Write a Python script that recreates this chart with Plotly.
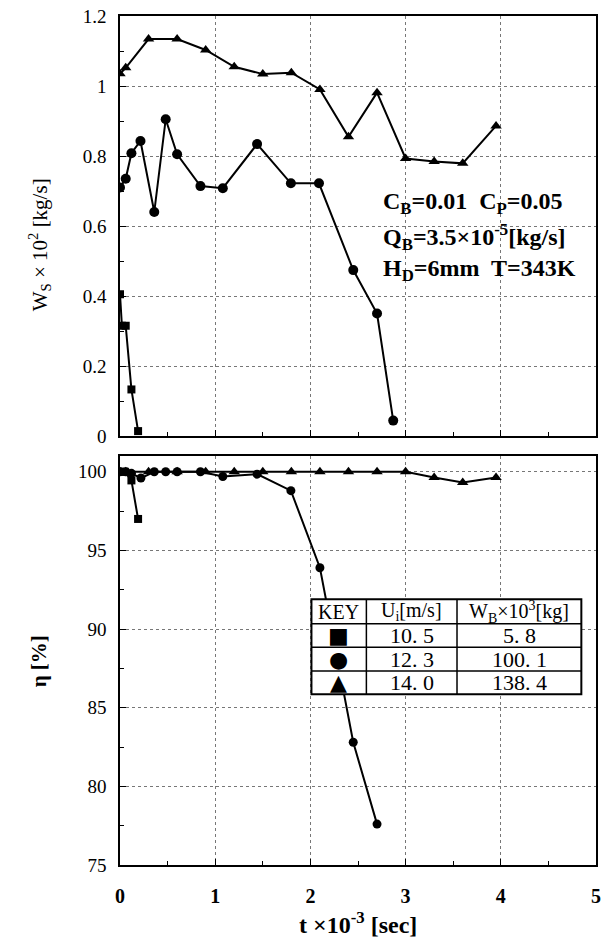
import plotly.graph_objects as go

# ---- data ----
t_sq_top = [0.0, 0.02, 0.06, 0.12, 0.19]
ws_sq = [0.405, 0.315, 0.315, 0.133, 0.014]
t_ci_top = [0.0, 0.06, 0.12, 0.215, 0.36, 0.48, 0.60, 0.845, 1.08, 1.44, 1.795, 2.09, 2.45, 2.70, 2.87]
ws_ci = [0.71, 0.735, 0.808, 0.843, 0.640, 0.905, 0.805, 0.714, 0.708, 0.834, 0.722, 0.722, 0.474, 0.350, 0.044]
t_tr_top = [0.0, 0.06, 0.30, 0.60, 0.90, 1.20, 1.50, 1.80, 2.10, 2.40, 2.70, 3.00, 3.30, 3.60, 3.95]
ws_tr = [1.035, 1.052, 1.134, 1.134, 1.103, 1.055, 1.034, 1.038, 0.990, 0.855, 0.981, 0.793, 0.784, 0.779, 0.886]

t_sq_bot = [0.0, 0.05, 0.12, 0.19]
eta_sq = [100.0, 100.0, 99.45, 97.0]
t_ci_bot = [0.0, 0.06, 0.12, 0.22, 0.36, 0.48, 0.60, 0.845, 1.08, 1.44, 1.795, 2.10, 2.45, 2.70]
eta_ci = [100.0, 100.0, 99.9, 99.6, 100.0, 100.0, 100.0, 100.0, 99.7, 99.85, 98.8, 93.9, 82.8, 77.6]
t_tr_bot = [0.0, 0.06, 0.30, 0.60, 0.90, 1.20, 1.50, 1.80, 2.10, 2.40, 2.70, 3.00, 3.30, 3.60, 3.95]
eta_tr = [100.0, 100.0, 100.0, 100.0, 100.0, 100.0, 100.0, 100.0, 100.0, 100.0, 100.0, 100.0, 99.64, 99.32, 99.64]

key_symbols = ["■", "●", "▲"]
key_ui = ["10. 5", "12. 3", "14. 0"]
key_wb = ["5. 8", "100. 1", "138. 4"]

SERIF = "Liberation Serif"
fig = go.Figure()

def add(x, y, sym, size, xa, ya):
    fig.add_trace(go.Scatter(x=x, y=y, mode="lines+markers", xaxis=xa, yaxis=ya,
                             line=dict(color="black", width=2),
                             marker=dict(symbol=sym, size=size, color="black"),
                             showlegend=False, hoverinfo="skip"))

add(t_sq_top, ws_sq, "square", 8, "x", "y")
add(t_ci_top, ws_ci, "circle", 10, "x", "y")
add(t_tr_top, ws_tr, "triangle-up", 10, "x", "y")
add(t_sq_bot, eta_sq, "square", 8, "x2", "y2")
add(t_ci_bot, eta_ci, "circle", 9, "x2", "y2")
add(t_tr_bot, eta_tr, "triangle-up", 10, "x2", "y2")

grid = dict(showgrid=True, gridcolor="#777", gridwidth=1, griddash="dot")
common_axis = dict(showline=True, linecolor="black", linewidth=1.5, mirror=True,
                   ticks="inside", ticklen=6, tickcolor="black", zeroline=False)

fig.update_layout(
    width=605, height=943,
    margin=dict(l=120, r=4, t=16, b=78),
    paper_bgcolor="white", plot_bgcolor="white",
    xaxis=dict(domain=[0, 1], range=[0, 5], anchor="y", dtick=1, showticklabels=False,
               minor=dict(dtick=0.5, ticks="inside", ticklen=4, tickcolor="black"),
               **grid, **common_axis),
    yaxis=dict(domain=[0.5053, 1], range=[0, 1.2], anchor="x", dtick=0.2,
               tickvals=[0, 0.2, 0.4, 0.6, 0.8, 1.0, 1.2],
               ticktext=["0", "0.2", "0.4", "0.6", "0.8", "1", "1.2"],
               tickfont=dict(family=SERIF, size=19, color="black"), ticklabelstandoff=8,
               minor=dict(dtick=0.1, ticks="inside", ticklen=4, tickcolor="black"),
               **grid, **common_axis),
    xaxis2=dict(domain=[0, 1], range=[0, 5], anchor="y2", dtick=1,
                tickfont=dict(family=SERIF, size=20, color="black", weight="bold"),
                ticklabelstandoff=12,
                minor=dict(dtick=0.5, ticks="inside", ticklen=4, tickcolor="black"),
                **grid, **common_axis),
    yaxis2=dict(domain=[0, 0.4817], range=[75, 101], anchor="x2", dtick=5,
                tickfont=dict(family=SERIF, size=19, color="black"), ticklabelstandoff=8,
                minor=dict(dtick=2.5, ticks="inside", ticklen=4, tickcolor="black"),
                **grid, **common_axis),
)

ann = []
# axis titles
ann.append(dict(text="W<sub>S</sub> × 10<sup>2</sup> [kg/s]", xref="paper", yref="paper",
                x=-0.17, y=0.73, textangle=-90, showarrow=False,
                xanchor="center", yanchor="middle",
                font=dict(family=SERIF, size=21, color="black")))
ann.append(dict(text="η [%]", xref="paper", yref="paper", x=-0.17, y=0.24,
                textangle=-90, showarrow=False, xanchor="center", yanchor="middle",
                font=dict(family=SERIF, size=21, color="black", weight="bold")))
ann.append(dict(text="t ×10<sup>-3</sup> [sec]", xref="paper", yref="paper",
                x=0.5, y=-0.068, showarrow=False, yanchor="middle",
                font=dict(family=SERIF, size=24, color="black", weight="bold")))
# condition text
cond = ["C<sub>B</sub>=0.01  C<sub>P</sub>=0.05",
        "Q<sub>B</sub>=3.5×10<sup>-5</sup>[kg/s]",
        "H<sub>D</sub>=6mm  T=343K"]
cond_y = [0.666, 0.569, 0.474]
for s, yy in zip(cond, cond_y):
    ann.append(dict(text=s, xref="x", yref="y", x=2.74, y=yy, xanchor="left",
                    showarrow=False, font=dict(family=SERIF, size=24, color="black", weight="bold")))

# key table
tx = [2.011, 2.588, 3.54, 4.846]
ty = [91.89, 90.33, 88.84, 87.34, 85.85]
shapes = [dict(type="rect", xref="x2", yref="y2", x0=tx[0], x1=tx[3], y0=ty[4], y1=ty[0],
               fillcolor="white", line=dict(color="black", width=2), layer="above")]
for xv in tx[1:3]:
    shapes.append(dict(type="line", xref="x2", yref="y2", x0=xv, x1=xv, y0=ty[4], y1=ty[0],
                       line=dict(color="black", width=1.5), layer="above"))
for yv in ty[1:4]:
    shapes.append(dict(type="line", xref="x2", yref="y2", x0=tx[0], x1=tx[3], y0=yv, y1=yv,
                       line=dict(color="black", width=1.5), layer="above"))
fig.update_layout(shapes=shapes)

cx = [(tx[i] + tx[i + 1]) / 2 for i in range(3)]
cy = [(ty[i] + ty[i + 1]) / 2 for i in range(4)]
hdr = ["KEY", "U<sub>i</sub>[m/s]", "W<sub>B</sub>×10<sup>3</sup>[kg]"]
for i in range(3):
    ann.append(dict(text=hdr[i], xref="x2", yref="y2", x=cx[i], y=cy[0], showarrow=False,
                    font=dict(family=SERIF, size=20, color="black")))
for r in range(3):
    ann.append(dict(text=key_symbols[r], xref="x2", yref="y2", x=cx[0], y=cy[r + 1],
                    showarrow=False, font=dict(family="DejaVu Sans", size=22, color="black")))
    ann.append(dict(text=key_ui[r], xref="x2", yref="y2", x=cx[1], y=cy[r + 1],
                    showarrow=False, font=dict(family=SERIF, size=22, color="black")))
    ann.append(dict(text=key_wb[r], xref="x2", yref="y2", x=cx[2], y=cy[r + 1],
                    showarrow=False, font=dict(family=SERIF, size=22, color="black")))
fig.update_layout(annotations=ann)

fig.write_html("out.html")
